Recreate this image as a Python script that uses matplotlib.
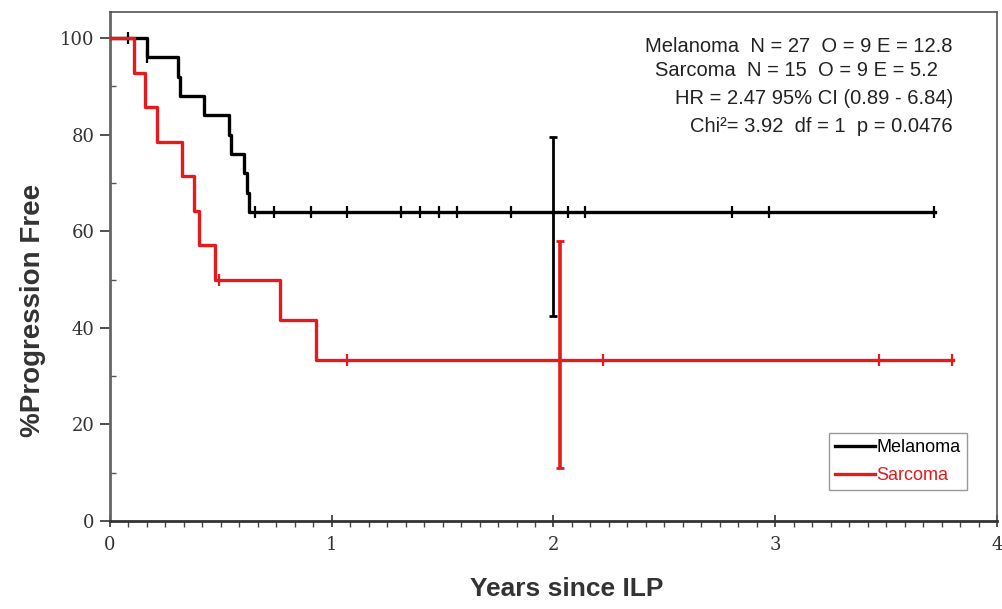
import matplotlib
matplotlib.use("Agg")
import matplotlib.pyplot as plt
import numpy as np
from matplotlib.ticker import MultipleLocator

# ---- data ----
mel_times = [0.0, 0.166, 0.306, 0.315, 0.425, 0.535, 0.545, 0.603, 0.620, 0.629]
mel_surv = [100, 96, 92, 88, 84, 80, 76, 72, 68, 64]
mel_end = 3.72
mel_censor = [0.08, 0.166, 0.656, 0.739, 0.905, 1.071, 1.312, 1.40, 1.482, 1.566,
              1.81, 2.066, 2.141, 2.805, 2.971, 3.718]

sar_times = [0.0, 0.11, 0.16, 0.21, 0.325, 0.38, 0.40, 0.475, 0.766, 0.931]
sar_surv = [100, 92.86, 85.71, 78.57, 71.43, 64.29, 57.14, 50.0, 41.67, 33.33]
sar_end = 3.80
sar_censor = [0.49, 1.071, 2.225, 3.469, 3.798]

mel_err_x, mel_err_y, mel_err_lo, mel_err_hi = 2.0, 64, 42.4, 79.5
sar_err_x, sar_err_y, sar_err_lo, sar_err_hi = 2.03, 33.33, 11.0, 58.0

stats_lines = ["Melanoma  N = 27  O = 9 E = 12.8",
               "Sarcoma  N = 15  O = 9 E = 5.2",
               "HR = 2.47 95% CI (0.89 - 6.84)",
               "Chi\u00b2= 3.92  df = 1  p = 0.0476"]

xticks = [0, 1, 2, 3, 4]
yticks = [0, 20, 40, 60, 80, 100]

W, H = 1003, 609
fig = plt.figure(figsize=(W / 100, H / 100), dpi=100)
ax = fig.add_axes([110 / W, 1 - 521 / H, (997 - 110) / W, (521 - 12) / H])

def step_xy(times, surv, end):
    xs = list(times) + [end]
    ys = list(surv) + [surv[-1]]
    return xs, ys

def surv_at(times, surv, t):
    idx = np.searchsorted(np.array(times), t, side='right') - 1
    return surv[max(idx, 0)]

mx, my = step_xy(mel_times, mel_surv, mel_end)
sx, sy = step_xy(sar_times, sar_surv, sar_end)

RED = '#e41a1c'
ax.step(mx, my, where='post', color='black', lw=2.4, label='Melanoma', zorder=3)
ax.step(sx, sy, where='post', color=RED, lw=2.4, label='Sarcoma', zorder=4)

mcy = [surv_at(mel_times, mel_surv, t) for t in mel_censor]
scy = [surv_at(sar_times, sar_surv, t) for t in sar_censor]
ax.plot(mel_censor, mcy, ls='none', marker='|', ms=8, mew=1.6, color='black', zorder=3)
ax.plot(sar_censor, scy, ls='none', marker='|', ms=8, mew=1.6, color=RED, zorder=4)

ax.errorbar([mel_err_x], [mel_err_y],
            yerr=[[mel_err_y - mel_err_lo], [mel_err_hi - mel_err_y]],
            fmt='none', ecolor='black', elinewidth=2.0, capsize=3, capthick=2, zorder=5)
ax.errorbar([sar_err_x], [sar_err_y],
            yerr=[[sar_err_y - sar_err_lo], [sar_err_hi - sar_err_y]],
            fmt='none', ecolor=RED, elinewidth=2.6, capsize=3, capthick=2, zorder=6)

ax.set_xlim(0, 4)
ax.set_ylim(0, 105.4)
ax.set_xticks(xticks)
ax.set_yticks(yticks)
ax.xaxis.set_minor_locator(MultipleLocator(1 / 12))
ax.yaxis.set_minor_locator(MultipleLocator(10))

tick_font = dict(family='DejaVu Serif', size=13)
ax.set_xticklabels([str(t) for t in xticks], fontdict=tick_font, color='#333333')
ax.set_yticklabels([str(t) for t in yticks], fontdict=tick_font, color='#333333')

ax.tick_params(axis='x', which='major', direction='inout', length=9, width=1.2, pad=6, colors='#333333')
ax.tick_params(axis='x', which='minor', direction='out', length=4, width=1.0, colors='#444444')
ax.tick_params(axis='y', which='major', direction='out', length=7, width=1.2, pad=4, colors='#333333')
ax.tick_params(axis='y', which='minor', direction='in', length=4, width=1.0, colors='#555555')

ax.spines['left'].set_linewidth(2.0)
ax.spines['left'].set_color('#666666')
ax.spines['bottom'].set_linewidth(2.0)
ax.spines['bottom'].set_color('#333333')
for side in ['top', 'right']:
    ax.spines[side].set_linewidth(1.2)
    ax.spines[side].set_color('#555555')

ax.set_xlabel('Years since ILP', fontsize=19, fontweight='bold', family='Liberation Sans',
              color='#333333')
ax.set_ylabel('%Progression Free', fontsize=20, fontweight='bold', family='Liberation Sans',
              color='#333333')
ax.xaxis.set_label_coords((567 - 110) / 887, (521 - 577) / 509)
ax.yaxis.set_label_coords((46 - 110) / 887, (521 - 310) / 509)

leg = ax.legend(loc='lower right', bbox_to_anchor=(0.966, 0.06), borderaxespad=0,
                prop={'family': 'Liberation Sans', 'size': 13}, labelcolor='linecolor',
                handlelength=2.2, handletextpad=0.1, fancybox=False, framealpha=1,
                edgecolor='#999999', borderpad=0.35, labelspacing=0.6)
leg.get_frame().set_linewidth(1.0)

rights = [953, 938, 953, 953]
rows = [47, 71, 99, 126]
for txt, xr, yr in zip(stats_lines, rights, rows):
    fig.text(xr / W, 1 - yr / H, txt, ha='right', va='center', fontsize=14.5,
             family='Liberation Sans', color='#222222')

fig.savefig('out.png', dpi=100)
